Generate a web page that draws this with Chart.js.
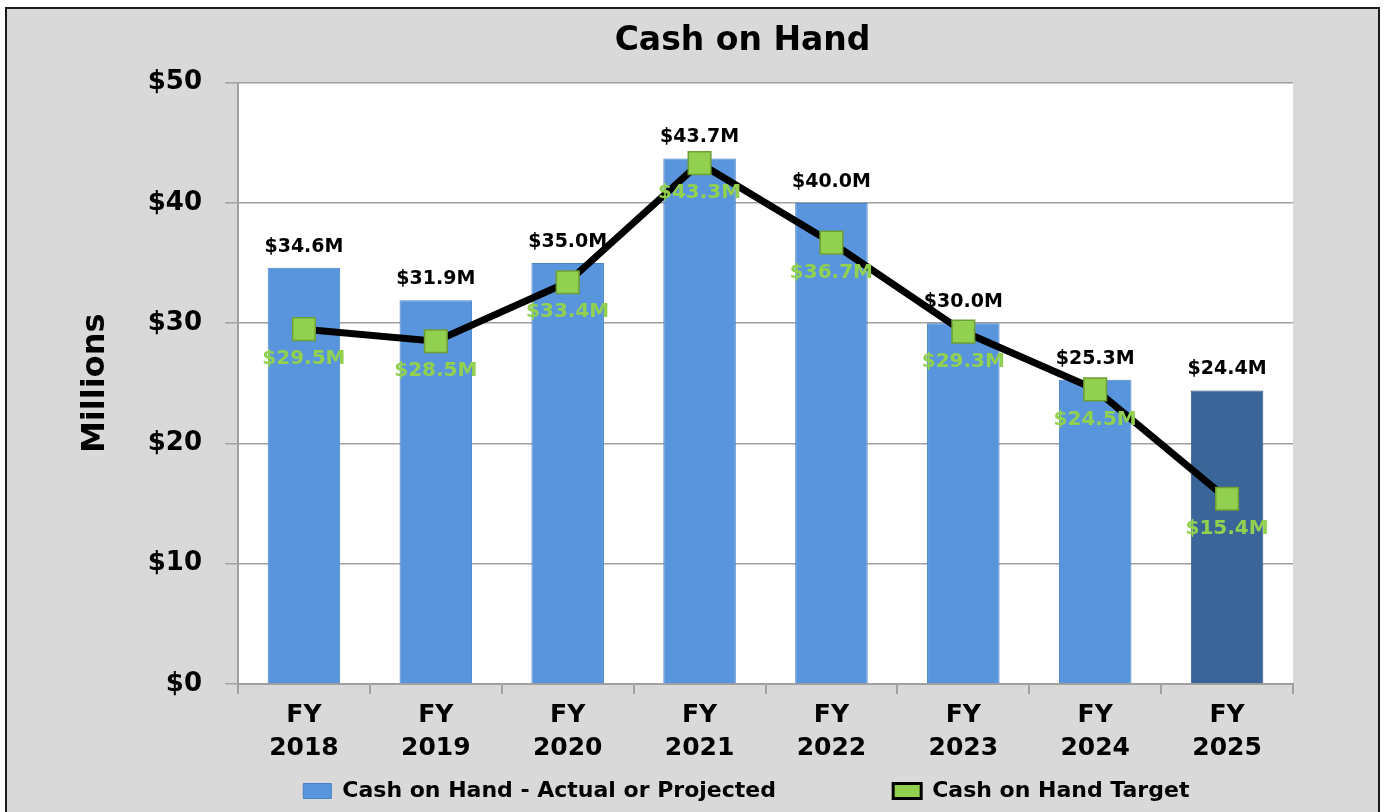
<!DOCTYPE html>
<html>
<head>
<meta charset="utf-8">
<script src="https://cdn.jsdelivr.net/npm/chart.js@4"></script>
<style>
  body { margin: 0; background: #fff; overflow: hidden; }
  #frame {
    position: absolute; left: 5px; top: 7px;
    width: 1371px; height: 803px;
    border: 2px solid #1a1a1a; border-bottom: none;
    background: #d9d9d9;
  }
  canvas { display: block; }
</style>
</head>
<body>
<div id="frame"><canvas id="chart" width="1371" height="803"></canvas></div>
<script>
const categories = [
  ['FY', '2018'], ['FY', '2019'], ['FY', '2020'], ['FY', '2021'],
  ['FY', '2022'], ['FY', '2023'], ['FY', '2024'], ['FY', '2025']
];
const actual = [34.6, 31.9, 35.0, 43.7, 40.0, 30.0, 25.3, 24.4];
const target = [29.5, 28.5, 33.4, 43.3, 36.7, 29.3, 24.5, 15.4];
const yMin = 0;
const yMax = 50;
const yStep = 10;
const seriesNames = ['Cash on Hand - Actual or Projected', 'Cash on Hand Target'];

const BLUE = '#5895dc';
const DARK_BLUE = '#3a6598';
const GREEN = '#92d050';
const GRID = '#a0a0a0';

Chart.defaults.font.family = '"DejaVu Sans", sans-serif';
Chart.defaults.color = '#000';

function money(v) {
  return '$' + v.toFixed(1) + 'M';
}

// white plot area on the grey chart background
const plotBackground = {
  id: 'plotBackground',
  beforeDraw(chart) {
    const {ctx, chartArea: a} = chart;
    ctx.save();
    ctx.fillStyle = '#fff';
    ctx.fillRect(a.left, a.top, a.right - a.left, a.bottom - a.top);
    ctx.restore();
  }
};

// value labels: black above the bars, green under the target points
const valueLabels = {
  id: 'valueLabels',
  afterDatasetsDraw(chart) {
    const ctx = chart.ctx;
    ctx.save();
    ctx.textAlign = 'center';
    ctx.textBaseline = 'middle';
    ctx.font = 'bold 19px "DejaVu Sans"';
    ctx.fillStyle = '#000';
    chart.getDatasetMeta(0).data.forEach((bar, i) => {
      ctx.fillText(money(actual[i]), bar.x, bar.y - 21);
    });
    ctx.font = 'bold 20px "DejaVu Sans"';
    ctx.fillStyle = GREEN;
    chart.getDatasetMeta(1).data.forEach((pt, i) => {
      ctx.fillText(money(target[i]), pt.x, pt.y + 30);
    });
    ctx.restore();
  }
};

new Chart(document.getElementById('chart'), {
  type: 'bar',
  data: {
    labels: categories,
    datasets: [
      {
        type: 'bar',
        label: seriesNames[0],
        data: actual,
        backgroundColor: actual.map((v, i) => i === actual.length - 1 ? DARK_BLUE : BLUE),
        borderColor: actual.map((v, i) => i === actual.length - 1 ? '#2f5580' : '#4a82c6'),
        borderWidth: 1,
        categoryPercentage: 1,
        barPercentage: 0.55,
        order: 1
      },
      {
        type: 'line',
        label: seriesNames[1],
        data: target,
        borderColor: '#000',
        borderWidth: 7,
        tension: 0,
        pointStyle: 'rect',
        pointRadius: 16,
        pointBackgroundColor: GREEN,
        pointBorderColor: '#6f9e34',
        pointBorderWidth: 1.5,
        order: 0
      }
    ]
  },
  options: {
    responsive: false,
    animation: false,
    events: [],
    layout: { padding: { left: 0, right: 85, top: 0, bottom: 0 } },
    plugins: {
      title: {
        display: true,
        fullSize: false,
        text: 'Cash on Hand    ',
        color: '#000',
        font: { size: 33, weight: 'bold' },
        padding: { top: 13, bottom: 21 }
      },
      legend: {
        position: 'bottom',
        fullSize: false,
        labels: {
          boxWidth: 28,
          boxHeight: 15,
          padding: 10,
          color: '#000',
          font: { size: 22, weight: 'bold' },
          generateLabels: () => [
            {
              text: seriesNames[0] + ' '.repeat(14),
              fillStyle: BLUE, strokeStyle: '#4a82c6', lineWidth: 1,
              fontColor: '#000', datasetIndex: 0
            },
            {
              text: seriesNames[1] + ' '.repeat(5),
              fillStyle: GREEN, strokeStyle: '#000', lineWidth: 3,
              fontColor: '#000', datasetIndex: 1
            }
          ]
        }
      },
      tooltip: { enabled: false }
    },
    scales: {
      x: {
        afterFit: (s) => { s.height = 86; },
        grid: {
          offset: true,
          drawOnChartArea: false,
          drawTicks: true,
          tickLength: 10,
          color: GRID,
          lineWidth: 2
        },
        border: { color: GRID, width: 2 },
        ticks: {
          padding: 5,
          color: '#000',
          font: { size: 25, weight: 'bold', lineHeight: 1.32 }
        }
      },
      y: {
        min: yMin,
        max: yMax,
        afterFit: (s) => { s.width = 231; },
        grid: {
          color: GRID,
          lineWidth: 1.5,
          tickLength: 13
        },
        border: { color: GRID, width: 2 },
        ticks: {
          stepSize: yStep,
          padding: 23,
          color: '#000',
          font: { size: 26, weight: 'bold' },
          callback: (v) => '$' + v
        },
        title: {
          display: true,
          text: 'Millions',
          color: '#000',
          font: { size: 32, weight: 'bold' },
          padding: { top: 69, bottom: 0 }
        }
      }
    }
  },
  plugins: [plotBackground, valueLabels]
});
</script>
</body>
</html>
